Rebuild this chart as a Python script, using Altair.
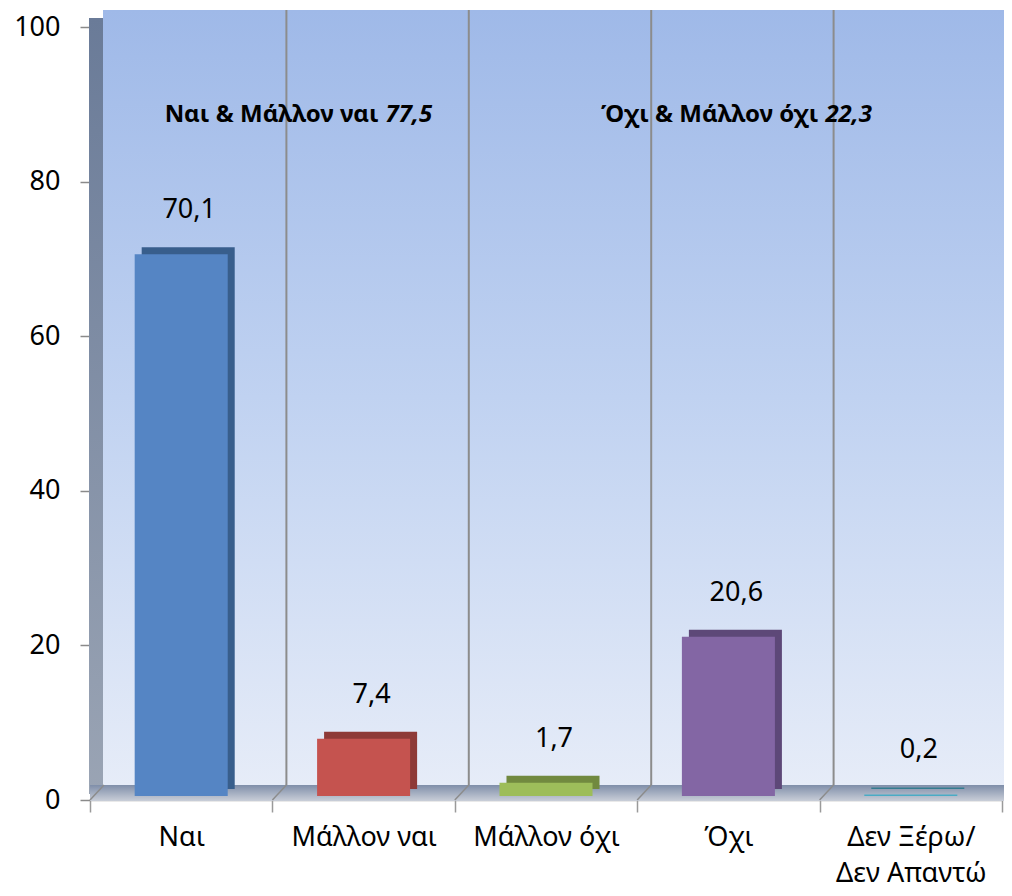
import altair as alt
import pandas as pd

categories = ["Ναι", "Μάλλον ναι", "Μάλλον όχι", "Όχι", "Δεν Ξέρω/\nΔεν Απαντώ"]
values = [70.1, 7.4, 1.7, 20.6, 0.2]
front_colors = ["#5585c4", "#c5534f", "#9dbd5a", "#8366a4", "#4aabc5"]
side_colors = ["#385e8c", "#8e3a37", "#71893f", "#5d4878", "#347c90"]

group_labels = ["Ναι & Μάλλον ναι", "Όχι & Μάλλον όχι"]
group_totals = ["77,5", "22,3"]
group_anchor = ["Μάλλον ναι", "Όχι"]
group_level = [88.6, 88.6]

FONT = "Noto Sans"

df = pd.DataFrame({"cat": categories, "v": values, "front": front_colors, "side": side_colors})
ann = pd.DataFrame({"cat": group_anchor, "txt": group_labels, "num": group_totals, "lvl": group_level})

xscale = alt.Scale(domain=categories, paddingInner=0, paddingOuter=0)
yscale = alt.Scale(domain=[0, 100])

x_enc = alt.X("cat:N", scale=xscale, sort=categories,
              axis=alt.Axis(title=None, labelAngle=0, labelAlign="center", labelBaseline="top",
                            tickBand="extent", labelFont=FONT,
                            labelFontSize=27, labelColor="#000000", labelPadding=12,
                            tickColor="#9a9a9a", tickSize=12, tickWidth=1.5,
                            domainColor="#a8a8a8", domainWidth=1.5, grid=False,
                            labelExpr="split(datum.label, '\\n')", labelLineHeight=36))
y_enc = alt.Y("v:Q", scale=yscale,
              axis=alt.Axis(title=None, values=[0, 20, 40, 60, 80, 100], labelFont=FONT,
                            labelFontSize=27, labelColor="#000000", labelPadding=20,
                            tickColor="#8a8a8a", tickSize=10, tickWidth=1.5,
                            domain=False, grid=False))

base = alt.Chart(df)
one = pd.DataFrame({"a": [0]})

wall_grad = alt.LinearGradient(gradient="linear", x1=0, x2=0, y1=0, y2=1,
                               stops=[alt.GradientStop(color="#9fb9e8", offset=0),
                                      alt.GradientStop(color="#c0d2f1", offset=0.5),
                                      alt.GradientStop(color="#e6ecf8", offset=1)])
side_grad = alt.LinearGradient(gradient="linear", x1=0, x2=0, y1=0, y2=1,
                               stops=[alt.GradientStop(color="#6a7b98", offset=0),
                                      alt.GradientStop(color="#9aa4b4", offset=1)])
floor_grad = alt.LinearGradient(gradient="linear", x1=0, x2=0, y1=0, y2=1,
                                stops=[alt.GradientStop(color="#7f8ea9", offset=0),
                                       alt.GradientStop(color="#c9ced8", offset=1)])

wall = alt.Chart(one).mark_rect(
    fill=wall_grad, xOffset=13, x2Offset=13, yOffset=-17, y2Offset=-15
).encode(x=alt.value(0), x2=alt.value("width"),
         y=alt.Y(datum=100, scale=yscale, type="quantitative"), y2=alt.Y2(datum=0))

side = alt.Chart(one).mark_rect(
    fill=side_grad, yOffset=-9, y2Offset=-6
).encode(x=alt.value(-1), x2=alt.value(13),
         y=alt.Y(datum=100, scale=yscale, type="quantitative"), y2=alt.Y2(datum=0))

floor = alt.Chart(one).mark_rect(
    fill=floor_grad, yOffset=-15, y2Offset=1, x2Offset=13
).encode(x=alt.value(0), x2=alt.value("width"),
         y=alt.Y(datum=0, scale=yscale, type="quantitative"), y2=alt.Y2(datum=0))

grid = base.transform_filter(alt.datum.cat != categories[0]).mark_rule(
    color="#8c8c8c", strokeWidth=2, xOffset=14, yOffset=-17, y2Offset=-15
).encode(x=alt.X("cat:N", scale=xscale, sort=categories, bandPosition=0),
         y=alt.Y(datum=100, scale=yscale, type="quantitative"), y2=alt.Y2(datum=0))

slant = base.mark_rule(
    color="#8c8c8c", strokeWidth=1.5, x2Offset=14, y2Offset=-15
).encode(x=alt.X("cat:N", scale=xscale, sort=categories, bandPosition=0),
         x2=alt.X2("cat:N", bandPosition=0),
         y=alt.Y(datum=0, scale=yscale, type="quantitative"), y2=alt.Y2(datum=0))

bar_side = base.mark_bar(width=alt.RelativeBandSize(0.51), xOffset=7, yOffset=-11, y2Offset=-11).encode(
    x=alt.X("cat:N", scale=xscale, sort=categories),
    y=alt.Y("v:Q", scale=yscale),
    y2=alt.Y2(datum=0),
    color=alt.Color("side:N", scale=None),
)

bars = base.mark_bar(width=alt.RelativeBandSize(0.51), yOffset=-4, y2Offset=-4).encode(
    x=x_enc, y=y_enc, y2=alt.Y2(datum=0),
    color=alt.Color("front:N", scale=None),
)

labels = base.transform_calculate(
    lab="replace(format(datum.v, '.1f'), '.', ',')"
).mark_text(font=FONT, fontSize=27, dy=-48, dx=8, color="#000000").encode(
    x=alt.X("cat:N", scale=xscale, sort=categories),
    y=alt.Y("v:Q", scale=yscale),
    text="lab:N",
)


def annotation(idx, dx):
    sub = alt.Chart(ann).transform_filter(alt.datum.cat == group_anchor[idx])
    enc = dict(x=alt.X("cat:N", scale=xscale, sort=categories),
               y=alt.Y("lvl:Q", scale=yscale))
    bold = sub.mark_text(font=FONT, fontSize=24, fontWeight="bold", align="right",
                         dx=dx, color="#000000").encode(text="txt:N", **enc)
    num = sub.mark_text(font=FONT, fontSize=24, fontWeight="bold", fontStyle="italic",
                        align="left", dx=dx + 7, color="#000000").encode(text="num:N", **enc)
    return bold + num


ann1 = annotation(0, 15)
ann2 = annotation(1, 90)

chart = alt.layer(wall, side, floor, grid, slant, bar_side, bars, labels, ann1, ann2).properties(
    width=912, height=773,
    autosize=alt.AutoSizeParams(type="none"),
    padding={"left": 82, "top": 19, "right": 2, "bottom": 93},
    background="#ffffff",
).configure_view(stroke=None)

chart.save("out.html", embed_options={"renderer": "svg", "actions": False})
